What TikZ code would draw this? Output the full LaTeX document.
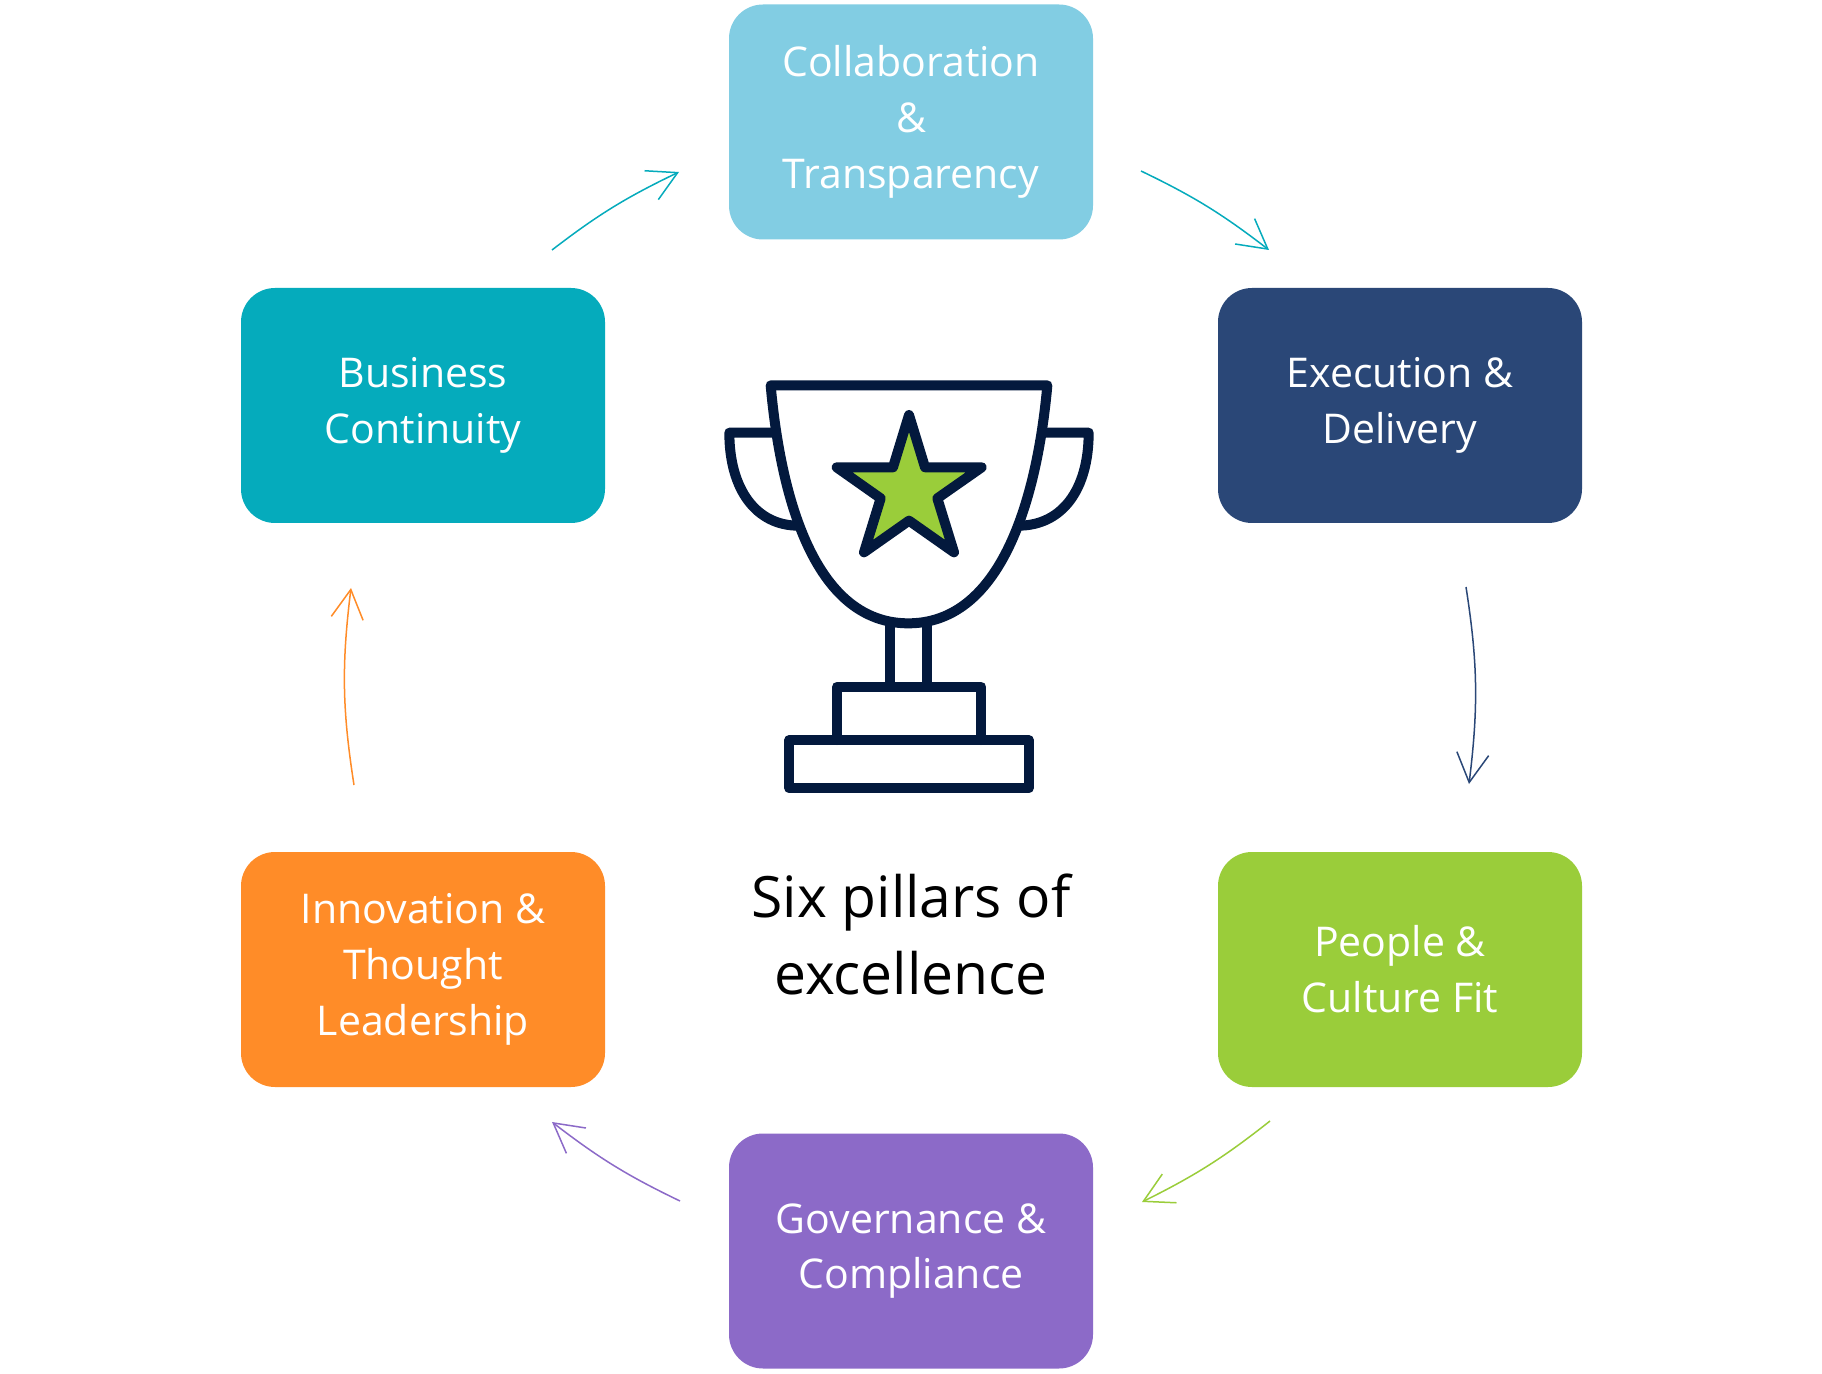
\documentclass[tikz,border=0pt]{standalone}
\usepackage{fontspec}
\setmainfont{Open Sans}
\usetikzlibrary{arrows.meta,bending}
\definecolor{skyc}{HTML}{82CDE3}
\definecolor{navyc}{HTML}{2A4777}
\definecolor{limec}{HTML}{9ACD3A}
\definecolor{purplec}{HTML}{8C6AC8}
\definecolor{orangec}{HTML}{FF8C28}
\definecolor{tealc}{HTML}{05ABBC}
\definecolor{inkc}{HTML}{03193D}
\tikzset{
  pillar/.style={fill=#1, text=white, rounded corners=17pt, minimum width=182pt, minimum height=117.5pt,
    align=center, inner sep=0pt, font=\fontsize{20.5}{27.9}\selectfont},
  flow/.style={draw=#1, line width=0.75pt, -{Straight Barb[length=14.5pt,width=16pt,flex]}},
  trophyline/.style={draw=inkc, line width=5pt, line join=round, line cap=round},
  headline/.style={align=center, inner sep=0pt, text=black, font=\fontsize{28.5}{38.5}\selectfont}
}
\begin{document}
\begin{tikzpicture}[x=0.5pt,y=-0.5pt]
\useasboundingbox[fill=white] (0,0) rectangle (1822,1374);

% Six pillars
\node[pillar=skyc]    (collab)  at (911,122)   {Collaboration\\\&\\Transparency};
\node[pillar=navyc]   (exec)    at (1400,405.5){Execution \&\\Delivery};
\node[pillar=limec]   (people)  at (1400,969.5){People \&\\Culture Fit};
\node[pillar=purplec] (gov)     at (911,1251)  {Governance \&\\Compliance};
\node[pillar=orangec] (innov)   at (423,969.5) {Innovation \&\\Thought\\Leadership};
\node[pillar=tealc]   (contin)  at (423,405.5) {Business\\Continuity};

% Centre caption
\node[headline] (title) at (911,934) {Six pillars of\\excellence};

% Connector ends around the ring
\coordinate (a1s) at (552,250);   \coordinate (a1e) at (679,172);
\coordinate (a2s) at (1141,171);  \coordinate (a2e) at (1269,250);
\coordinate (a3s) at (1466,587);  \coordinate (a3e) at (1469,784);
\coordinate (a4s) at (1270,1121); \coordinate (a4e) at (1142,1202);
\coordinate (a5s) at (680,1201);  \coordinate (a5e) at (552,1122);
\coordinate (a6s) at (354,785);   \coordinate (a6e) at (351,588);

\draw[flow=tealc]   (a1s) to[bend left=6] (a1e);
\draw[flow=tealc]   (a2s) to[bend left=6] (a2e);
\draw[flow=navyc]   (a3s) to[bend left=8] (a3e);
\draw[flow=limec]   (a4s) to[bend left=6] (a4e);
\draw[flow=purplec] (a5s) to[bend left=6] (a5e);
\draw[flow=orangec] (a6s) to[bend left=8] (a6e);

% Trophy
\begin{scope}[shift={(700,360)},x=0.1666667pt,y=-0.1666667pt]
  % handles
  \draw[trophyline] (222,218) -- (88,218) .. controls (88,390) and (170,497) .. (295,497);
  \draw[trophyline] (1035,218) -- (1166,218) .. controls (1166,390) and (1085,497) .. (955,497);
  % cup
  \draw[trophyline] (212,76) -- (1042,76)
    .. controls (1022,300) and (945,790) .. (625,790)
    .. controls (305,790) and (232,300) .. (212,76) -- cycle;
  % stem
  \draw[trophyline,line cap=butt] (570,795) -- (570,980);
  \draw[trophyline,line cap=butt] (682,795) -- (682,980);
  % base
  \draw[trophyline] (411,1140) -- (411,980) -- (844,980) -- (844,1140);
  \draw[trophyline] (268,1140) rectangle (986,1285);
  % star
  \draw[trophyline,fill=limec] (627,165) -- (675,322) -- (845,322) -- (712,415) -- (762,577)
    -- (627,482) -- (492,577) -- (542,415) -- (410,322) -- (579,322) -- cycle;
\end{scope}
\end{tikzpicture}
\end{document}
